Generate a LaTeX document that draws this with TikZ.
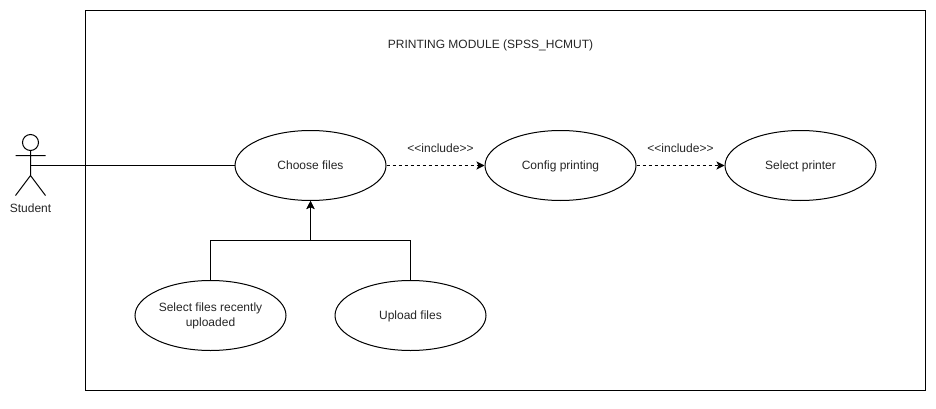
\documentclass[tikz,border=0pt]{standalone}
\usepackage{fontspec}
\setmainfont{Liberation Sans}
\usetikzlibrary{shapes.geometric,arrows.meta}
\tikzset{
  px/.style={x=1pt,y=-1pt},
  usecase/.style={draw,ellipse,line width=1pt,minimum width=151pt,minimum height=70pt,inner sep=0pt,font=\fontsize{12pt}{15pt}\selectfont,align=center,text=black!85},
  oneline/.style={usecase,text height=11pt,text depth=3pt},
  lbl/.style={font=\fontsize{12pt}{15pt}\selectfont,inner sep=0pt,align=center,text=black!85},
  conn/.style={line width=1pt},
  arr/.style={conn,-{Stealth[length=8pt,width=8pt,inset=2pt]}},
  darr/.style={arr,dash pattern=on 3pt off 3pt}
}
\begin{document}
\begin{tikzpicture}[px]
\useasboundingbox (0,0) rectangle (936,409);
\fill[white] (0,0) rectangle (936,409);
\node[draw,line width=1pt,minimum width=840pt,minimum height=379pt,inner sep=0pt] (module) at (505.5,200.5) {};
\node[lbl] (title) at (490.5,45.5) {PRINTING MODULE (SPSS\_HCMUT)};
\node[oneline] (choose) at (310.5,165.5) {Choose files};
\node[oneline] (config) at (560.5,165.5) {Config printing};
\node[oneline] (select) at (800.5,165.5) {Select printer};
\node[usecase] (recent) at (210.5,315.5) {Select files recently\\uploaded};
\node[oneline] (upload) at (410.5,315.5) {Upload files};
\node[lbl] (inc1) at (440.5,148.5) {<{}<include>{}>};
\node[lbl] (inc2) at (680.5,148.5) {<{}<include>{}>};
\node[lbl] (student) at (30.5,208.5) {Student};
\draw[conn] (30.5,142.5) circle (8pt);
\coordinate (neck) at (30.5,150.5);
\coordinate (hip) at (30.5,175.5);
\coordinate (armL) at (15.5,155.5);
\coordinate (armR) at (45.5,155.5);
\coordinate (footL) at (15.5,195.5);
\coordinate (footR) at (45.5,195.5);
\coordinate (actor) at (30.5,165.5);
\draw[conn] (neck) -- (hip) (armL) -- (armR) (hip) -- (footL) (hip) -- (footR);
\draw[conn] (actor) -- (choose.west);
\draw[darr] (choose.east) -- (config.west);
\draw[darr] (config.east) -- (select.west);
\draw[arr] (recent.north) -- (210.5,240.5) -| (choose.south);
\draw[arr] (upload.north) -- (410.5,240.5) -| (choose.south);
\end{tikzpicture}
\end{document}
